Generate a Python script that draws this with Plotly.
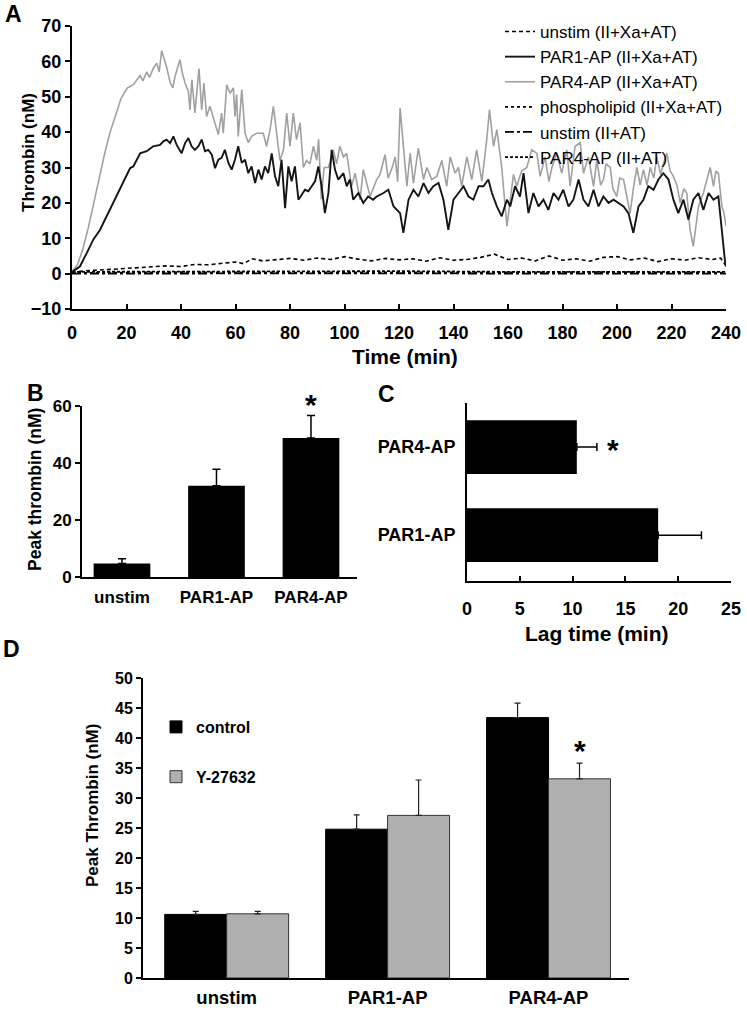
import plotly.graph_objects as go

W, H = 747, 1011
FONT = "Liberation Sans, Arial, sans-serif"

def fx(p):
    return p / W

def fy(p):
    return 1 - p / H

# ---------------- Panel A data (time in min, thrombin nM) ----------------
t_par4 = [0, 2, 4, 6, 8, 10, 12, 14, 16, 18, 19.5, 20.4, 22.5, 25, 26, 27.4, 28.5, 29.8, 31.1, 32,
          32.9, 34.7, 36, 37, 37.8, 39, 39.6, 40.5, 41.5, 42.7, 43.3, 44, 45.1, 46.6, 47.6, 48.4, 49.4,
          50.6, 51.9, 53.7, 54.9, 55.5, 56.8, 58, 59.2, 59.8, 60.4, 61, 62.3, 63.5, 64.7, 65.9, 67.8,
          70.2, 71.4, 72.7, 73.9, 75.1, 76.3, 77.6, 78.8, 80, 81.2, 82.4, 83.7, 84.9, 86.1, 87.3, 88.6,
          89.8, 90.5, 91.5, 92.5, 94.1, 95.9, 97.1, 98.3, 99.6, 100.8, 102.6, 103.9, 105.7, 106.9,
          109.4, 111.8, 113, 114.9, 116, 117.5, 118.6, 119.5, 120.4, 121.6, 122.9, 124.1, 125.3,
          127.1, 129, 130.2, 132, 133.9, 135.7, 137.5, 138.8, 140.6, 141.8, 143, 144.9, 146.7, 148.5,
          150.4, 152.2, 153.2, 154.7, 155.9, 157.7, 159.6, 160.8, 162, 163.2, 165, 166.9, 168.7,
          170.6, 171.8, 173.6, 175, 176.1, 177.9, 179.7, 181.6, 182.8, 184.6, 186.5, 187.7, 189.5,
          191.4, 192.6, 194, 195, 196, 197.5, 198.5, 199.9, 201, 202.4, 204.8, 206, 207.3, 208.5,
          209.7, 211, 212.2, 213.5, 214.6, 216, 217, 218.3, 219.5, 220.7, 222, 223.2, 224.5, 225.6,
          226.8, 228, 229.9, 231.7, 233, 234.2, 235.4, 236.3, 237.2, 238.5, 239.3, 240]
v_par4 = [0.5, 2.5, 7, 13, 20, 27, 34, 40, 45, 49.5, 51.5, 52.5, 53.4, 56, 54.5, 57, 55.5, 58, 59.5, 57,
          63, 58.5, 54, 52.5, 55.7, 59.5, 60.5, 56.7, 53.9, 51.5, 46.3, 54.8, 45.4, 58, 46.3, 53.9, 44.4,
          47.3, 44, 39.3, 45.4, 39.7, 53.4, 51, 52.5, 44.4, 50.6, 38.8, 52, 39.7, 37, 38.8, 39.7,
          39.7, 36, 40.7, 47.3, 38.8, 32, 35, 45.4, 36, 45.4, 37.9, 42.6, 30, 32, 31, 36,
          32, 38, 21, 30, 30, 35, 31, 36, 33, 34, 24.7, 28.4, 20.9, 29.4,
          21.8, 26.6, 28, 33.6, 27, 30, 33, 26, 46.8, 37, 24.7, 34, 25.6,
          35.5, 26.6, 30, 26.6, 27.5, 32, 24.7, 33, 28.4, 30, 24.7, 33, 26.6, 35,
          26.1, 37.9, 46.3, 36, 40.7, 30, 13.4, 21, 28, 24.7, 29, 30, 35,
          34, 27.5, 33, 26, 30, 34, 28.4, 35, 24.7, 36, 37, 28.4, 33,
          24.7, 32, 25, 26.6, 31, 30, 24, 21.8, 27, 26.6, 17, 24, 30, 25,
          29.4, 25, 30, 27, 33, 28, 31, 34, 29, 27.5, 25, 20, 24, 22.8,
          12.4, 7.7, 19, 22.8, 27, 30, 24.7, 29, 28.4, 19, 17, 13.4]

t_par1 = [0, 2.9, 5.4, 7.8, 10.3, 12.7, 15.2, 17.6, 19.4, 21.3, 22.5, 23.7, 25, 27.4, 29.8, 32.3, 33.5,
          34.7, 36, 37.2, 38.4, 40.2, 41.5, 42.7, 43.9, 45.1, 46.4, 47.6, 48.8, 50, 51.3, 52.5, 53.7,
          54.9, 56.1, 57.4, 58.6, 59.8, 61, 62.3, 63.5, 64.7, 65.9, 67.2, 68.4, 69.6, 70.8, 72, 73.3,
          74.5, 75.7, 76.9, 78.2, 79.4, 80.6, 81.8, 83.1, 84.3, 85.5, 86.7, 88, 89.2, 90.4, 91.6, 92.8,
          94.1, 95.3, 96.5, 97.7, 99.6, 100.8, 102, 103.2, 105.1, 106.9, 108.7, 110.5, 111.8, 114.3,
          116.1, 118, 120.4, 121.6, 123.5, 125.3, 127.1, 129, 130.8, 132.6, 134.5, 136.3, 138.1, 140,
          141.8, 143.7, 145.5, 147.3, 149.2, 151, 152.8, 154.1, 155.9, 157.7, 159.6, 160.8, 162.6,
          164.4, 165.7, 167.5, 169.3, 171.2, 173, 174.8, 176.7, 178.5, 180.3, 182.2, 184, 185.9,
          187.7, 189.5, 191.4, 193.2, 195, 196.9, 198.7, 200.5, 202.4, 204.2, 206, 207.9, 209.7,
          211.5, 213.4, 215.2, 217, 218.9, 220.7, 222.5, 224.4, 226.2, 228, 229.9, 231.7, 233.6,
          235.4, 237.2, 238.5, 239.7, 240]
v_par1 = [0.5, 2, 5.8, 9.6, 12.4, 16.2, 20, 23.7, 26.6, 29.8, 30.3, 32.2, 34, 34.6, 36, 36.4, 37.4,
          37.9, 36.9, 38.8, 36.4, 34, 36.9, 38.3, 36, 35, 36, 37.9, 34.6, 35, 33.6, 29.8, 32.2,
          32.7, 35, 31.3, 29.4, 32.2, 36, 31.3, 32.2, 28.4, 30.3, 25.6, 29.4, 26.6, 30.3, 28.4, 34,
          27.5, 24.7, 32.2, 18.5, 30.3, 26.1, 30.3, 20.9, 22.3, 23.7, 23.3, 24.7, 26.1, 30.3, 24.7, 17.1,
          22.8, 35, 29.4, 26.6, 28.4, 24.7, 26.6, 20.9, 22.8, 20, 21.8, 20.9, 21.8, 22.8,
          23.7, 19, 17.1, 11.5, 20.9, 23.7, 21.8, 25.6, 22.8, 24.7, 25.6, 20.9, 12.4, 20.9,
          22.8, 24.7, 21.8, 20.9, 24.7, 24.7, 26.6, 22.8, 19, 16.2, 20.9, 19, 24.7,
          21.8, 28.4, 17.1, 22.8, 19, 20.9, 18, 22.8, 20.9, 23.7, 19, 20.9, 26.6,
          20.9, 19, 23.7, 19, 21.8, 20, 20.9, 20, 19, 17.1, 11.5, 19, 20.9,
          24.7, 23.7, 26.6, 28.4, 26.6, 20.9, 17.1, 20.9, 15.3, 20.9, 22.8, 18, 22.8,
          20.9, 21.8, 11.5, 3, 2]

t_unstim = [0, 5, 10, 15, 20, 25, 30, 35, 40, 45, 50, 55, 60, 63, 66, 70, 75, 80, 85, 90, 95, 100, 105,
            110, 115, 120, 125, 130, 135, 140, 145, 150, 155, 160, 165, 170, 175, 180, 185, 190, 195,
            200, 205, 210, 215, 220, 225, 230, 235, 238, 240]
v_unstim = [0.3, 0.8, 1.0, 1.2, 1.4, 1.6, 2.0, 2.2, 2.0, 2.6, 2.5, 3.0, 3.3, 2.8, 4.2, 3.6, 4.0, 4.3,
            3.8, 4.4, 4.0, 4.8, 4.1, 3.6, 4.3, 3.9, 4.2, 3.5, 4.5, 3.8, 4.0, 4.6, 5.5, 4.0, 4.4, 3.6,
            5.0, 3.8, 4.2, 3.5, 4.6, 4.8, 3.9, 4.4, 3.4, 4.2, 3.8, 4.5, 4.0, 4.4, 2.2]

t_flat = [0, 40, 80, 120, 160, 200, 240]
v_phospholipid = [0.2, 0.4, 0.3, 0.4, 0.3, 0.4, 0.3]
v_unstim_noXa = [0.0, 0.1, 0.0, 0.1, 0.0, 0.1, 0.0]
v_par4_noXa = [0.5, 0.6, 0.5, 0.7, 0.5, 0.6, 0.5]

time_ticks = list(range(0, 241, 20))

# ---------------- Panel B data ----------------
b_cats = ["unstim", "PAR1-AP", "PAR4-AP"]
b_peak = [4.7, 32.0, 48.8]
b_err = [1.7, 5.8, 7.9]

# ---------------- Panel C data ----------------
c_cats = ["PAR1-AP", "PAR4-AP"]
c_lag = [18.1, 10.4]
c_err = [4.1, 1.9]

# ---------------- Panel D data ----------------
d_cats = ["unstim", "PAR1-AP", "PAR4-AP"]
d_control = [10.6, 24.8, 43.4]
d_control_err = [0.5, 2.4, 2.4]
d_y27632 = [10.7, 27.1, 33.2]
d_y27632_err = [0.4, 5.9, 2.6]
D_BAR_W = 0.385

BLACK = "#000000"
GREY_LINE = "#a0a0a0"
GREY_BAR = "#b0b0b0"

fig = go.Figure()

# Panel A traces (flat lines first, then dashed, grey, black on top)
fig.add_trace(go.Scatter(x=t_flat, y=v_phospholipid, mode="lines", name="phospholipid (II+Xa+AT)",
                         line=dict(color=BLACK, width=1.8, dash="dot"), legendrank=4,
                         xaxis="x", yaxis="y", legend="legend"))
fig.add_trace(go.Scatter(x=t_flat, y=v_unstim_noXa, mode="lines", name="unstim (II+AT)",
                         line=dict(color=BLACK, width=1.8, dash="dashdot"), legendrank=5,
                         xaxis="x", yaxis="y", legend="legend"))
fig.add_trace(go.Scatter(x=t_flat, y=v_par4_noXa, mode="lines", name="PAR4-AP (II+AT)",
                         line=dict(color=BLACK, width=1.8, dash="3px,2px"), legendrank=6,
                         xaxis="x", yaxis="y", legend="legend"))
fig.add_trace(go.Scatter(x=t_unstim, y=v_unstim, mode="lines", name="unstim (II+Xa+AT)",
                         line=dict(color=BLACK, width=1.6, dash="4px,3px"), legendrank=1,
                         xaxis="x", yaxis="y", legend="legend"))
fig.add_trace(go.Scatter(x=t_par4, y=v_par4, mode="lines", name="PAR4-AP (II+Xa+AT)",
                         line=dict(color=GREY_LINE, width=1.6), legendrank=3,
                         xaxis="x", yaxis="y", legend="legend"))
fig.add_trace(go.Scatter(x=t_par1, y=v_par1, mode="lines", name="PAR1-AP (II+Xa+AT)",
                         line=dict(color="#151515", width=1.9), legendrank=2,
                         xaxis="x", yaxis="y", legend="legend"))

# Panel B
fig.add_trace(go.Bar(x=b_cats, y=b_peak, width=0.6, marker=dict(color=BLACK, line=dict(width=0)),
                     error_y=dict(type="data", array=b_err, arrayminus=[0] * len(b_err), symmetric=False,
                                  color=BLACK, thickness=1.5, width=4),
                     showlegend=False, xaxis="x2", yaxis="y2"))

# Panel C
fig.add_trace(go.Bar(y=c_cats, x=c_lag, orientation="h", width=0.61,
                     marker=dict(color=BLACK, line=dict(width=0)),
                     error_x=dict(type="data", array=c_err, arrayminus=[0] * len(c_err), symmetric=False,
                                  color=BLACK, thickness=1.5, width=4),
                     showlegend=False, xaxis="x3", yaxis="y3"))

# Panel D
fig.add_trace(go.Bar(x=d_cats, y=d_control, name="control", width=D_BAR_W, offset=-D_BAR_W,
                     marker=dict(color=BLACK, line=dict(color=BLACK, width=1)),
                     error_y=dict(type="data", array=d_control_err, arrayminus=[0] * 3, symmetric=False,
                                  color="#222222", thickness=1.2, width=3),
                     xaxis="x4", yaxis="y4", legend="legend2", legendgroup="c"))
fig.add_trace(go.Bar(x=d_cats, y=d_y27632, name="Y-27632", width=D_BAR_W, offset=0,
                     marker=dict(color=GREY_BAR, line=dict(color="#333333", width=1)),
                     error_y=dict(type="data", array=d_y27632_err, arrayminus=[0] * 3, symmetric=False,
                                  color="#222222", thickness=1.2, width=3),
                     xaxis="x4", yaxis="y4", legend="legend2", legendgroup="y"))

tick_bold = lambda s: dict(family=FONT, size=s, color=BLACK, weight="bold")
axis_common = dict(showline=True, linecolor=BLACK, linewidth=2, showgrid=False, zeroline=False,
                   tickcolor=BLACK, tickwidth=2, automargin=False)

fig.update_layout(
    width=W, height=H, autosize=False,
    margin=dict(l=0, r=0, t=0, b=0, autoexpand=False),
    paper_bgcolor="white", plot_bgcolor="white",
    barmode="overlay",
    font=dict(family=FONT, color=BLACK),
    xaxis=dict(domain=[fx(72), fx(726)], range=[0, 240], tickvals=time_ticks, ticks="inside", ticklen=5,
               tickfont=tick_bold(18), ticklabelstandoff=6, anchor="y", **axis_common),
    yaxis=dict(domain=[fy(309), fy(26)], range=[-10, 70], dtick=10, ticks="outside", ticklen=5,
               tickfont=tick_bold(18), anchor="x", **axis_common),
    xaxis2=dict(domain=[fx(82), fx(357)], type="category", categoryorder="array", categoryarray=b_cats,
                range=[-0.423, 2.487], ticks="", tickfont=tick_bold(17), ticklabelstandoff=4,
                anchor="y2", **axis_common),
    yaxis2=dict(domain=[fy(577), fy(406)], range=[0, 60], tickvals=[0, 20, 40, 60], ticks="outside",
                ticklen=5, tickfont=tick_bold(17), anchor="x2", **axis_common),
    xaxis3=dict(domain=[fx(467), fx(731)], range=[0, 25], dtick=5, ticks="inside", ticklen=5,
                tickfont=tick_bold(18), ticklabelstandoff=10, anchor="y3", **axis_common),
    yaxis3=dict(domain=[fy(581), fy(403)], type="category", categoryorder="array", categoryarray=c_cats,
                range=[-0.52, 1.5], ticks="", tickfont=tick_bold(18), ticklabelstandoff=6,
                anchor="x3", **axis_common),
    xaxis4=dict(domain=[fx(143), fx(629)], type="category", categoryorder="array", categoryarray=d_cats,
                range=[-0.52, 2.5], ticks="", tickfont=tick_bold(18.5), ticklabelstandoff=2,
                anchor="y4", **axis_common),
    yaxis4=dict(domain=[fy(978), fy(678)], range=[0, 50], dtick=5, ticks="outside", ticklen=5,
                tickfont=tick_bold(16), anchor="x4", **axis_common),
    legend=dict(x=fx(500), y=fy(14), xanchor="left", yanchor="top", bgcolor="rgba(0,0,0,0)",
                font=dict(family=FONT, size=17, color=BLACK), itemwidth=30, traceorder="normal",
                tracegroupgap=0),
    legend2=dict(x=fx(156), y=fy(710), xanchor="left", yanchor="top", bgcolor="rgba(0,0,0,0)",
                 font=dict(family=FONT, size=16, color=BLACK, weight="bold"), itemwidth=30,
                 traceorder="grouped", tracegroupgap=26),
    showlegend=True,
)

def label(text, x, y, size, angle=0, weight="bold"):
    fig.add_annotation(text=text, x=fx(x), y=fy(y), xref="paper", yref="paper", showarrow=False,
                       textangle=angle, xanchor="center", yanchor="middle",
                       font=dict(family=FONT, size=size, color=BLACK, weight=weight))

label("A", 13, 14, 23)
label("B", 35, 393, 23)
label("C", 386, 394, 23)
label("D", 12, 649, 23)
label("Thrombin (nM)", 28, 153, 17, -90)
label("Time (min)", 405, 356, 21)
label("Peak thrombin (nM)", 35, 490, 17.5, -90)
label("Lag time (min)", 597, 633, 21)
label("Peak Thrombin (nM)", 92, 806, 17, -90)

# significance stars, positioned at the end of the error bars
fig.add_annotation(text="*", x=b_cats[2], y=b_peak[2] + b_err[2], xref="x2", yref="y2", showarrow=False,
                   yanchor="bottom", yshift=-8, font=dict(family=FONT, size=30, color=BLACK, weight="bold"))
fig.add_annotation(text="*", x=c_lag[1] + c_err[1], y=c_cats[1], xref="x3", yref="y3", showarrow=False,
                   xanchor="left", xshift=8, yshift=-2,
                   font=dict(family=FONT, size=30, color=BLACK, weight="bold"))
fig.add_annotation(text="*", x=2 + D_BAR_W / 2, y=d_y27632[2] + d_y27632_err[2], xref="x4", yref="y4",
                   showarrow=False, yanchor="bottom", yshift=-6,
                   font=dict(family=FONT, size=30, color=BLACK, weight="bold"))

fig.write_html("out.html", config={"displayModeBar": False},
               post_script="document.body.style.margin='0';")
